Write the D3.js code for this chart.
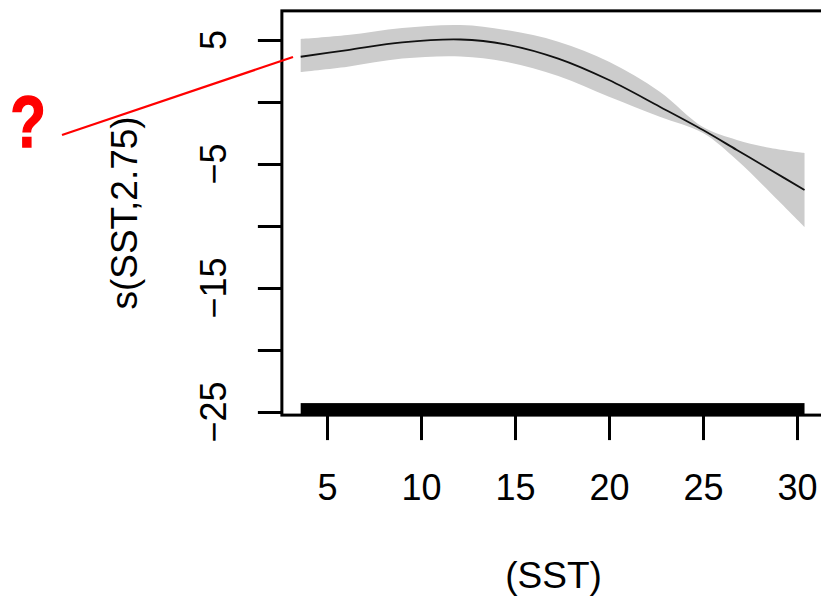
<!DOCTYPE html>
<html>
<head>
<meta charset="utf-8">
<script src="https://cdn.jsdelivr.net/npm/d3@7"></script>
<style>
  body { margin: 0; background: #fff; }
  svg { display: block; font-family: "Liberation Sans", Arial, sans-serif; }
</style>
</head>
<body>
<div id="chart"></div>
<script>
// smooth term s(SST,2.75)
const sst   = [3.6, 6.1, 9.0, 12.1, 14.5, 17.3, 20.0, 22.7, 25.0, 26.8, 28.6, 30.4]
const fit   = [3.65, 4.19, 4.81, 5.04, 4.65, 3.50, 1.77, -0.38, -2.26, -3.87, -5.48, -7.10]
const upper = [5.08, 5.40, 5.97, 6.21, 5.81, 4.86, 3.25, 0.83, -2.02, -3.06, -3.71, -4.11]
const lower = [2.42, 2.85, 3.50, 3.67, 3.25, 2.10, 0.43, -1.19, -2.50, -4.68, -7.34, -10.08]
const rugRange = [3.6, 30.4]

const xTicks = [5, 10, 15, 20, 25, 30]
const yTicks = [5, 0, -5, -10, -15, -20, -25]
const yLabelled = [5, -5, -15, -25]

const width = 821, height = 597

const x = d3.scaleLinear().domain([5, 30]).range([327, 797])
const y = d3.scaleLinear().domain([-25, 5]).range([412, 40])

// plot frame (R extends the range a little past the data)
const xFrame = [2.6, 31.5]
const yFrame = [-25.25, 7.35]

const svg = d3.select("#chart").append("svg")
    .attr("width", width)
    .attr("height", height)

const rows = sst.map((s, i) => ({ s: s, f: fit[i], u: upper[i], l: lower[i] }))
const smooth = d3.curveCatmullRom.alpha(0.5)

// confidence band
svg.append("path")
    .datum(rows)
    .attr("fill", "#cccccc")
    .attr("d", d3.area()
        .x(d => x(d.s))
        .y0(d => y(d.l))
        .y1(d => y(d.u))
        .curve(smooth))

// fitted line
svg.append("path")
    .datum(rows)
    .attr("fill", "none")
    .attr("stroke", "#111")
    .attr("stroke-width", 1.8)
    .attr("d", d3.line()
        .x(d => x(d.s))
        .y(d => y(d.f))
        .curve(smooth))

// rug (dense enough to look solid)
svg.append("rect")
    .attr("x", x(rugRange[0]))
    .attr("width", x(rugRange[1]) - x(rugRange[0]))
    .attr("y", y(yFrame[0]) - 12)
    .attr("height", 12)
    .attr("fill", "#000")

// frame
svg.append("rect")
    .attr("x", x(xFrame[0]))
    .attr("y", y(yFrame[1]))
    .attr("width", x(xFrame[1]) - x(xFrame[0]))
    .attr("height", y(yFrame[0]) - y(yFrame[1]))
    .attr("fill", "none")
    .attr("stroke", "#000")
    .attr("stroke-width", 3)

// x axis
const xAxis = svg.append("g")
    .attr("transform", `translate(0,${y(yFrame[0])})`)
    .call(d3.axisBottom(x).tickValues(xTicks).tickSize(25).tickPadding(34))
xAxis.select(".domain").remove()
xAxis.selectAll(".tick line").attr("stroke-width", 3)
xAxis.selectAll(".tick text")
    .attr("font-size", 36)
    .attr("fill", "#000")
    .attr("font-family", "Liberation Sans, Arial, sans-serif")

// y axis
const yAxis = svg.append("g")
    .attr("transform", `translate(${x(xFrame[0])},0)`)
    .call(d3.axisLeft(y).tickValues(yTicks).tickSize(24).tickFormat(""))
yAxis.select(".domain").remove()
yAxis.selectAll(".tick line").attr("stroke-width", 3)

svg.append("g")
    .selectAll("text")
    .data(yLabelled)
    .enter().append("text")
    .attr("transform", d => `translate(226,${y(d)}) rotate(-90)`)
    .attr("text-anchor", "middle")
    .attr("font-size", 36)
    .text(d => d < 0 ? "\u2212" + Math.abs(d) : d)

// axis titles
svg.append("text")
    .attr("x", (x(xFrame[0]) + x(xFrame[1])) / 2)
    .attr("y", 588)
    .attr("text-anchor", "middle")
    .attr("font-size", 37)
    .text("(SST)")

svg.append("text")
    .attr("transform", `translate(137,${(y(yFrame[0]) + y(yFrame[1])) / 2}) rotate(-90)`)
    .attr("text-anchor", "middle")
    .attr("font-size", 37)
    .text("s(SST,2.75)")

// red annotation
svg.append("line")
    .attr("x1", 62).attr("y1", 135)
    .attr("x2", 293).attr("y2", 57)
    .attr("stroke", "#ff0000")
    .attr("stroke-width", 2.2)

svg.append("text")
    .attr("transform", "translate(28,147) scale(0.8,1)")
    .attr("text-anchor", "middle")
    .attr("font-size", 73)
    .attr("font-weight", "bold")
    .attr("fill", "#ff0000")
    .style("stroke", "#ff0000")
    .style("stroke-width", 1.5)
    .text("?")
</script>
</body>
</html>
